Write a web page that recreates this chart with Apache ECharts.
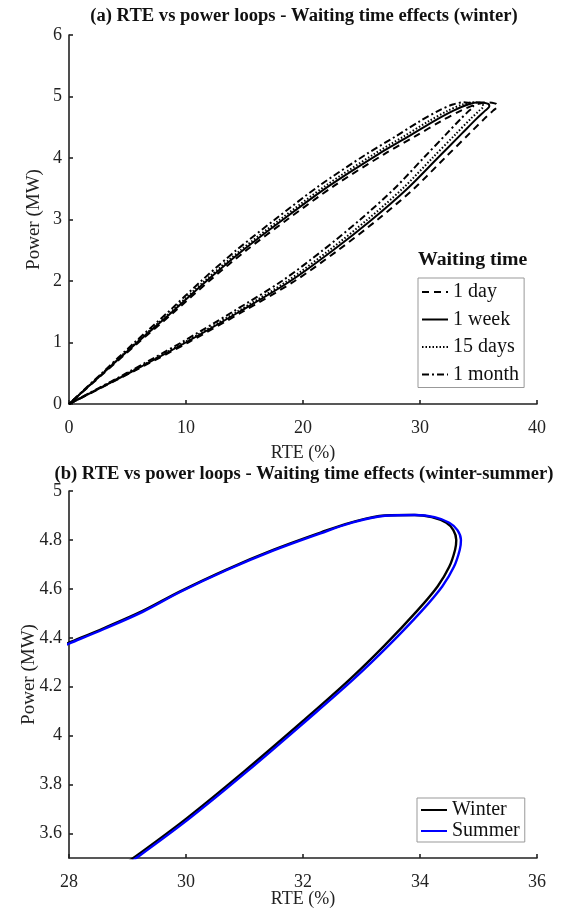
<!DOCTYPE html>
<html>
<head>
<meta charset="utf-8">
<script src="https://cdn.jsdelivr.net/npm/echarts@6/dist/echarts.min.js"></script>
<style>
  html, body { margin: 0; padding: 0; background: #fff; }
  #chart { width: 563px; height: 915px; }
</style>
</head>
<body>
<div id="chart"></div>
<script>
// ---- (a) RTE vs power loops for different waiting times (winter) ----
// each loop: [RTE %, power MW], from origin up the charging branch, round the tip, back down
const loop1Day = [[0,0],[5.19,0.5],[10.18,1.0],[14.84,1.5],[19.29,2.0],[23.0,2.5],[26.39,3.0],[29.47,3.5],[32.12,4.0],[34.24,4.4],[35.51,4.64],[36.25,4.77],[36.62,4.84],[36.52,4.88],[36.15,4.9],[35.72,4.905],[34.77,4.87],[33.5,4.77],[31.8,4.6],[29.57,4.35],[26.92,4.06],[22.68,3.55],[18.66,3.0],[15.16,2.5],[11.98,2.0],[9.01,1.5],[5.94,1.0],[2.97,0.5],[0,0]];
const loop1Week = [[0,0],[5.1,0.5],[9.98,1.0],[14.56,1.5],[18.93,2.0],[22.57,2.5],[25.9,3.0],[28.91,3.5],[31.51,4.0],[33.59,4.4],[34.84,4.64],[35.57,4.77],[35.93,4.84],[35.83,4.88],[35.46,4.9],[35.05,4.905],[34.11,4.87],[32.86,4.77],[31.2,4.6],[29.02,4.35],[26.42,4.06],[22.26,3.55],[18.3,3.0],[14.87,2.5],[11.75,2.0],[8.84,1.5],[5.82,1.0],[2.91,0.5],[0,0]];
const loop15Days = [[0,0],[5.02,0.5],[9.84,1.0],[14.35,1.5],[18.66,2.0],[22.24,2.5],[25.52,3.0],[28.5,3.5],[31.06,4.0],[33.11,4.4],[34.34,4.64],[35.06,4.77],[35.41,4.84],[35.31,4.88],[34.95,4.9],[34.54,4.905],[33.62,4.87],[32.39,4.77],[30.75,4.6],[28.6,4.35],[26.04,4.06],[21.94,3.55],[18.04,3.0],[14.66,2.5],[11.58,2.0],[8.71,1.5],[5.74,1.0],[2.87,0.5],[0,0]];
const loop1Month = [[0,0],[4.9,0.5],[9.6,1.0],[14.0,1.5],[18.2,2.0],[21.7,2.5],[24.9,3.0],[27.8,3.5],[30.3,4.0],[32.3,4.4],[33.5,4.64],[34.2,4.77],[34.55,4.84],[34.45,4.88],[34.1,4.9],[33.7,4.905],[32.8,4.87],[31.6,4.77],[30.0,4.6],[27.9,4.35],[25.4,4.06],[21.4,3.55],[17.6,3.0],[14.3,2.5],[11.3,2.0],[8.5,1.5],[5.6,1.0],[2.8,0.5],[0,0]];
const waitingNames = ['1 day', '1 week', '15 days', '1 month'];

// ---- (b) tip of the loop, winter vs summer ----
const loopWinter = [[28.5,3.4],[29.1,3.5],[30.0,3.66],[31.0,3.855],[32.0,4.06],[32.8,4.23],[33.4,4.37],[33.95,4.51],[34.3,4.61],[34.5,4.69],[34.6,4.76],[34.62,4.8],[34.57,4.84],[34.45,4.87],[34.2,4.893],[33.9,4.902],[33.4,4.9],[32.8,4.87],[32.3,4.83],[31.5,4.76],[30.7,4.68],[29.9,4.59],[29.26,4.51],[28.6,4.44],[28.0,4.38],[27.5,4.33]];
const loopSummer = [[28.55,3.4],[29.15,3.5],[30.05,3.66],[31.05,3.855],[32.05,4.06],[32.86,4.23],[33.47,4.37],[34.03,4.51],[34.38,4.61],[34.58,4.69],[34.68,4.76],[34.7,4.8],[34.64,4.84],[34.5,4.87],[34.25,4.893],[33.92,4.902],[33.4,4.899],[32.8,4.868],[32.3,4.827],[31.5,4.757],[30.7,4.677],[29.9,4.587],[29.26,4.506],[28.6,4.436],[28.0,4.376],[27.5,4.326]];
const seasonNames = ['Winter', 'Summer'];

// tick labels of panel (b) power axis
const powerTicksB = [3.6, 3.8, 4, 4.2, 4.4, 4.6, 4.8, 5];

const FONT = 'Liberation Serif';
const AXIS_COLOR = '#222';

function axisCommon(isX) {
  return {
    axisLine: { show: true, lineStyle: { color: AXIS_COLOR, width: 1.6 } },
    axisTick: { show: true, inside: true, length: 4, lineStyle: { color: AXIS_COLOR, width: 1.6 } },
    splitLine: { show: false },
    axisLabel: { color: '#222', fontFamily: FONT, fontSize: 18, margin: isX ? 15 : 7 },
    nameMoveOverlap: false,
    nameTextStyle: { color: '#222', fontFamily: FONT, fontSize: isX ? 18 : 19 }
  };
}

const dashStyles = {
  '1 day': [7, 5],
  '1 week': 'solid',
  '15 days': [1.5, 2],
  '1 month': [7, 3, 2, 3]
};
const loops = [loop1Day, loop1Week, loop15Days, loop1Month];

const series = loops.map((d, i) => ({
  name: waitingNames[i],
  type: 'line',
  xAxisIndex: 0, yAxisIndex: 0,
  data: d,
  smooth: 0.3,
  symbol: 'none',
  lineStyle: { color: '#000', width: 2, type: dashStyles[waitingNames[i]] },
  itemStyle: { color: '#000' }
}));

[loopWinter, loopSummer].forEach((d, i) => {
  const c = i === 0 ? '#000' : '#0000ff';
  series.push({
    name: seasonNames[i],
    type: 'line',
    xAxisIndex: 1, yAxisIndex: 1,
    data: d,
    smooth: 0.35,
    symbol: 'none',
    clip: true,
    lineStyle: { color: c, width: 2.4 },
    itemStyle: { color: c }
  });
});

const legendText = { fontFamily: FONT, fontSize: 20, color: '#111' };

const option = {
  animation: false,
  backgroundColor: '#fff',
  textStyle: { fontFamily: FONT },
  title: [
    { text: '(a) RTE vs power loops - Waiting time effects (winter)', left: 299, textAlign: 'center', top: 2,
      textStyle: { fontFamily: FONT, fontSize: 18.6, fontWeight: 'bold', color: '#111' } },
    { text: '(b) RTE vs power loops - Waiting time effects (winter-summer)', left: 299, textAlign: 'center', top: 460,
      textStyle: { fontFamily: FONT, fontSize: 18.6, fontWeight: 'bold', color: '#111' } },
    { text: 'Waiting time', left: 413, top: 245,
      textStyle: { fontFamily: FONT, fontSize: 19.8, fontWeight: 'bold', color: '#111' } }
  ],
  grid: [
    { left: 69, top: 35, width: 468, height: 369 },
    { left: 69, top: 491, width: 468, height: 367 }
  ],
  xAxis: [
    Object.assign(axisCommon(true), {
      gridIndex: 0, type: 'value', min: 0, max: 40, interval: 10,
      name: 'RTE (%)', nameLocation: 'middle', nameGap: 40
    }),
    Object.assign(axisCommon(true), {
      gridIndex: 1, type: 'value', min: 28, max: 36, interval: 2,
      name: 'RTE (%)', nameLocation: 'middle', nameGap: 32
    })
  ],
  yAxis: [
    Object.assign(axisCommon(false), {
      gridIndex: 0, type: 'value', min: 0, max: 6, interval: 1,
      name: 'Power (MW)', nameLocation: 'middle', nameGap: 25
    }),
    (function () {
      const a = axisCommon(false);
      a.axisTick.customValues = powerTicksB;
      a.axisLabel.customValues = powerTicksB;
      a.axisLabel.formatter = v => String(+(+v).toFixed(1));
      return Object.assign(a, {
        gridIndex: 1, type: 'value', min: 3.5, max: 5,
        name: 'Power (MW)', nameLocation: 'middle', nameGap: 30
      });
    })()
  ],
  legend: [
    {
      data: waitingNames, orient: 'vertical', left: 418, top: 278,
      itemWidth: 26, itemHeight: 14, itemGap: 7.5,
      padding: [4, 5, 3, 3],
      itemStyle: { opacity: 0 },
      borderColor: '#999', borderWidth: 1, backgroundColor: '#fff',
      textStyle: legendText
    },
    {
      data: seasonNames, orient: 'vertical', left: 417, top: 798,
      itemWidth: 26, itemHeight: 14, itemGap: 1,
      padding: [2, 5, 1, 3],
      itemStyle: { opacity: 0 },
      borderColor: '#999', borderWidth: 1, backgroundColor: '#fff',
      textStyle: legendText
    }
  ],
  series: series
};

const chart = echarts.init(document.getElementById('chart'), null, { renderer: 'canvas' });
chart.setOption(option);
</script>
</body>
</html>
